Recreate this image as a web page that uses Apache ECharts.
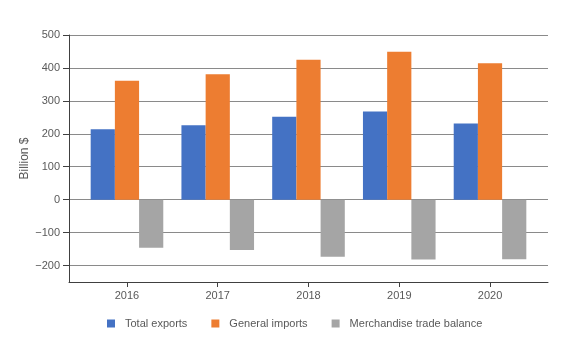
<!DOCTYPE html>
<html><head><meta charset="utf-8">
<script src="https://cdn.jsdelivr.net/npm/echarts@6/dist/echarts.min.js"></script>
<style>html,body{margin:0;padding:0;background:#fff}#c{width:567px;height:360px}</style>
</head><body><div id="c"></div>
<script>
const years = ['2016', '2017', '2018', '2019', '2020'];
const totalExports = [214, 226, 252, 268, 231];
const generalImports = [361, 381, 425, 449, 414];
const tradeBalance = [-146, -153, -173, -182, -181];
const yTicks = [-200, -100, 0, 100, 200, 300, 400, 500];
const yMin = -250, yMax = 500;
const seriesNames = ['Total exports', 'General imports', 'Merchandise trade balance'];
const colors = ['#4472C4', '#ED7D31', '#A5A5A5'];

const FONT = 'Liberation Sans';
const chart = echarts.init(document.getElementById('c'), null, {renderer: 'canvas'});
const fmt = v => String(v).replace('-', '\u2212');
chart.setOption({
  animation: false,
  textStyle: {fontFamily: FONT},
  color: colors,
  grid: [
    {left: 69, width: 479, top: 35, height: 247},
    {left: 81.6, width: 453.8, top: 35, height: 247}
  ],
  legend: {
    data: seriesNames,
    left: 102, top: 313,
    itemWidth: 8, itemHeight: 8, itemGap: 24,
    icon: 'rect',
    textStyle: {fontFamily: FONT, fontSize: 11, color: '#595959', padding: [0, 0, 0, 5]}
  },
  xAxis: [
    {gridIndex: 0, type: 'category', data: years,
     axisLine: {show: true, onZero: false, lineStyle: {color: '#404040', width: 1}},
     axisTick: {show: false}, axisLabel: {show: false}, splitLine: {show: false}},
    {gridIndex: 1, type: 'category', data: years,
     axisLine: {show: false, onZero: false},
     axisTick: {show: true, alignWithLabel: true, length: 5, lineStyle: {color: '#404040'}},
     axisLabel: {fontFamily: FONT, fontSize: 11, color: '#595959', margin: 8},
     splitLine: {show: false}}
  ],
  yAxis: [
    {gridIndex: 0, type: 'value', min: yMin, max: yMax,
     name: 'Billion $', nameLocation: 'middle', nameGap: 38, nameRotate: 90, nameMoveOverlap: false,
     nameTextStyle: {fontFamily: FONT, fontSize: 12, color: '#595959'},
     axisLine: {show: true, lineStyle: {color: '#404040', width: 1}},
     axisTick: {show: true, length: 6, customValues: yTicks, lineStyle: {color: '#404040'}},
     axisLabel: {customValues: yTicks, formatter: fmt, fontFamily: FONT, fontSize: 11, color: '#595959', margin: 9},
     splitLine: {show: true, lineStyle: {color: '#8a8a8a', width: 1}}},
    {gridIndex: 1, type: 'value', min: yMin, max: yMax,
     axisLine: {show: false}, axisTick: {show: false}, axisLabel: {show: false}, splitLine: {show: false}}
  ],
  series: [
    {name: seriesNames[0], type: 'bar', xAxisIndex: 1, yAxisIndex: 1, data: totalExports, barGap: '0%', barCategoryGap: '20%'},
    {name: seriesNames[1], type: 'bar', xAxisIndex: 1, yAxisIndex: 1, data: generalImports, barGap: '0%', barCategoryGap: '20%'},
    {name: seriesNames[2], type: 'bar', xAxisIndex: 1, yAxisIndex: 1, data: tradeBalance, barGap: '0%', barCategoryGap: '20%'}
  ]
});
</script>
</body></html>
